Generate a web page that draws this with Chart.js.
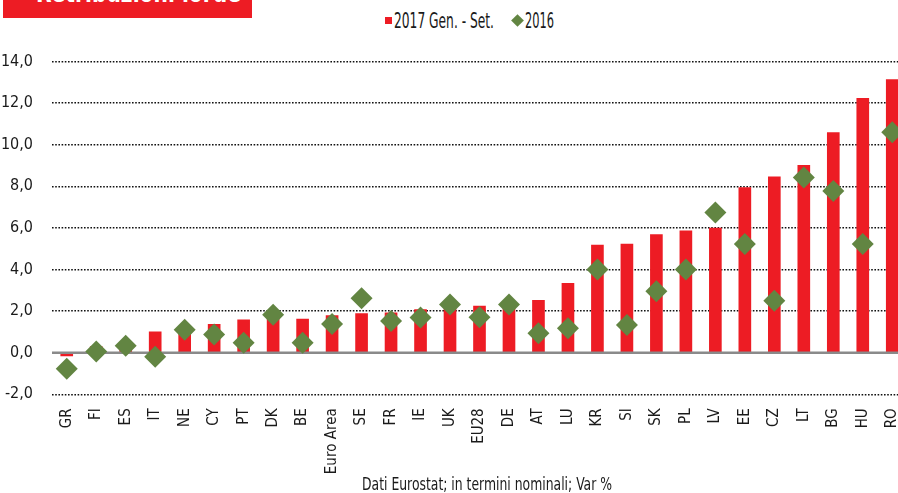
<!DOCTYPE html>
<html>
<head>
<meta charset="utf-8">
<script src="https://cdn.jsdelivr.net/npm/chart.js@4/dist/chart.umd.min.js"></script>
<style>
  html, body { margin: 0; padding: 0; width: 898px; height: 493px; overflow: hidden; background: #fff; }
  body { position: relative; font-family: 'Liberation Sans Narrow', 'DejaVu Sans Condensed', 'Liberation Sans', sans-serif; color: #1a1a1a; }
  #wrap { position: absolute; left: 0; top: 0; width: 908px; height: 493px; }
  .fit { position: absolute; white-space: nowrap; transform-origin: 0 0; }
  #title { position: absolute; left: 3px; top: 0; width: 249px; height: 18px; background: #ed1c24; overflow: hidden; }
  #title span { color: #fff; font-weight: bold; font-size: 29px; line-height: 29px; }
  .legend-text { font-size: 22px; line-height: 22px; }
  #footer { font-size: 17px; line-height: 17px; }
  .swatch { position: absolute; }
</style>
</head>
<body>
<div id="title"><span class="fit" style="left:33px; top:-22.5px" data-w="205">Retribuzioni lorde</span></div>
<div id="legend"></div>
<div id="wrap"><canvas id="chart" width="908" height="493"></canvas></div>
<div id="footer" class="fit" style="left:362px; top:475.6px" data-w="250">Dati Eurostat; in termini nominali; Var %</div>

<script>
// --- Dati ---
const countries = ['GR', 'FI', 'ES', 'IT', 'NE', 'CY', 'PT', 'DK', 'BE', 'Euro Area', 'SE', 'FR', 'IE', 'UK', 'EU28',
    'DE', 'AT', 'LU', 'KR', 'SI', 'SK', 'PL', 'LV', 'EE', 'CZ', 'LT', 'BG', 'HU', 'RO'];
const var2017 = [-0.15, 0.3, 0.5, 1.0, 1.2, 1.36, 1.58, 1.75, 1.62, 1.78, 1.88, 1.92, 2.07, 2.15, 2.24,
    2.25, 2.52, 3.33, 5.17, 5.22, 5.68, 5.86, 5.99, 7.94, 8.45, 9.01, 10.58, 12.23, 13.13];
const var2016 = [-0.77, 0.06, 0.33, -0.2, 1.1, 0.88, 0.48, 1.82, 0.48, 1.38, 2.62, 1.52, 1.69, 2.32, 1.7,
    2.32, 0.93, 1.17, 4.0, 1.33, 2.96, 4.0, 6.74, 5.23, 2.5, 8.42, 7.78, 5.23, 10.6];
const yTicks = [-2, 0, 2, 4, 6, 8, 10, 12, 14];
const seriesLabels = ['2017 Gen. - Set.', '2016'];

const RED = '#ed1c24';
const GREEN = '#628542';
const FONT = "'Liberation Sans Narrow', 'DejaVu Sans Condensed', 'Liberation Sans', sans-serif";

// linea dello zero, grigia, sopra le barre
const zeroLine = {
    id: 'zeroLine',
    afterDatasetDraw(chart, args) {
        if (args.index !== 0) return;
        const { ctx, chartArea, scales } = chart;
        const y = scales.y.getPixelForValue(0);
        ctx.save();
        ctx.strokeStyle = '#8a8a8a';
        ctx.lineWidth = 2.5;
        ctx.beginPath();
        ctx.moveTo(chartArea.left, y);
        ctx.lineTo(chartArea.right, y);
        ctx.stroke();
        ctx.restore();
    }
};

const chart = new Chart(document.getElementById('chart'), {
    data: {
        labels: countries,
        datasets: [{
            type: 'bar',
            label: seriesLabels[0],
            data: var2017,
            backgroundColor: RED,
            barThickness: 12,
            order: 2
        }, {
            type: 'line',
            label: seriesLabels[1],
            data: var2016,
            showLine: false,
            pointStyle: 'rectRot',
            pointRadius: 11,
            pointBackgroundColor: GREEN,
            pointBorderWidth: 0,
            clip: false,
            order: 1
        }]
    },
    options: {
        responsive: false,
        animation: false,
        devicePixelRatio: 1,
        // il canvas è più largo della finestra: l'ultima colonna viene tagliata
        layout: { autoPadding: false, padding: { top: 61.5, right: 1, left: 0, bottom: 0 } },
        plugins: { legend: { display: false }, tooltip: { enabled: false } },
        scales: {
            x: {
                grid: { display: false, drawTicks: false },
                border: { display: false },
                ticks: {
                    autoSkip: false, maxRotation: 90, minRotation: 90, padding: 14,
                    color: '#1a1a1a', font: { family: FONT, size: 15 }
                },
                afterFit: s => { s.height = 98.7; s.paddingLeft = 0; s.paddingRight = 0; }
            },
            y: {
                min: yTicks[0],
                max: yTicks[yTicks.length - 1],
                afterBuildTicks: s => { s.ticks = yTicks.map(v => ({ value: v })); },
                grid: {
                    drawTicks: false,
                    color: c => (c.tick && c.tick.value === 0) ? 'rgba(0,0,0,0)' : '#111',
                    lineWidth: 1.6
                },
                border: { display: false, dash: [1.6, 1.6] },
                ticks: {
                    padding: 19, color: '#1a1a1a', font: { family: FONT, size: 16 },
                    callback: v => v.toFixed(1).replace('.', ',')
                },
                afterFit: s => { s.width = 52; s.paddingTop = 0; s.paddingBottom = 0; }
            }
        }
    },
    plugins: [zeroLine]
});

// --- Legenda ---
const legend = document.getElementById('legend');
function addLegendItem(kind, color, x, text, textX, textW) {
    const sw = document.createElement('div');
    sw.className = 'swatch';
    if (kind === 'square') {
        Object.assign(sw.style, { left: x + 'px', top: '17px', width: '7px', height: '7px', background: color });
    } else {
        Object.assign(sw.style, { left: (x - 4.5) + 'px', top: '16px', width: '9px', height: '9px', background: color, transform: 'rotate(45deg)' });
    }
    legend.appendChild(sw);
    const t = document.createElement('span');
    t.className = 'fit legend-text';
    t.textContent = text;
    t.style.left = textX + 'px';
    t.style.top = '9.7px';
    t.dataset.w = textW;
    legend.appendChild(t);
}
addLegendItem('square', chart.data.datasets[0].backgroundColor, 385, chart.data.datasets[0].label, 394, 100);
addLegendItem('diamond', chart.data.datasets[1].pointBackgroundColor, 517, chart.data.datasets[1].label, 525, 29);

// adatta la larghezza dei testi condensati
document.querySelectorAll('.fit').forEach(el => {
    const w = el.getBoundingClientRect().width;
    if (w > 0) el.style.transform = `scaleX(${el.dataset.w / w})`;
});
</script>
</body>
</html>
